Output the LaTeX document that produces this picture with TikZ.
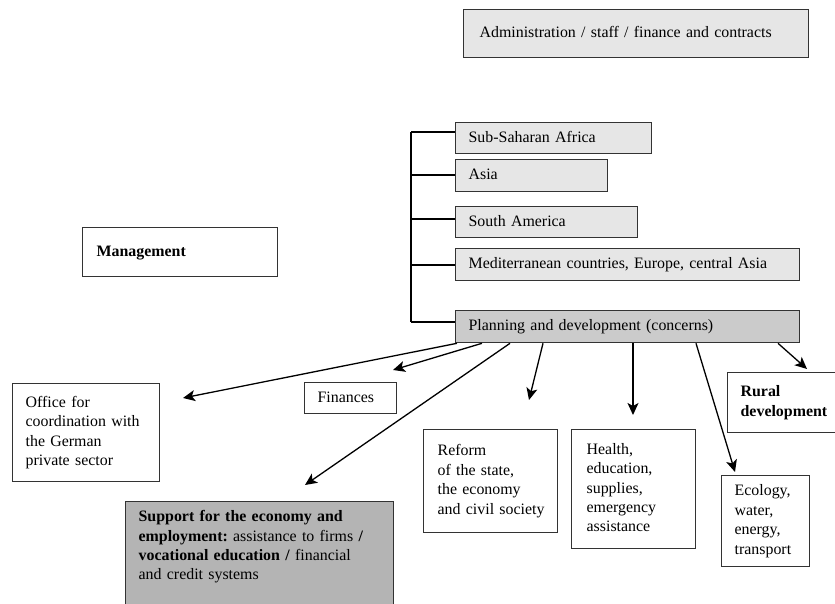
\documentclass[tikz,border=0pt]{standalone}
\usepackage{fontspec}
\setmainfont{Liberation Serif}
\usetikzlibrary{arrows.meta,calc}
\definecolor{lightbox}{HTML}{E6E6E6}
\definecolor{planbox}{HTML}{CBCBCB}
\definecolor{supbox}{HTML}{B4B4B4}
\definecolor{edgec}{HTML}{333333}
\newcommand{\cellt}[1]{\begin{tabular}{@{}l@{}}#1\end{tabular}}
\newcommand{\cellttop}[1]{\begin{tabular}[t]{@{}l@{}}#1\end{tabular}}
\frenchspacing
\begin{document}
\begin{tikzpicture}[x=1pt,y=-1pt,
  box/.style={draw=edgec, line width=1.3pt, anchor=north west, align=left, inner ysep=0pt,
    font=\fontsize{15.9}{19.4}\selectfont},
  lbox/.style={box, fill=lightbox},
  arr/.style={line width=1.3pt, draw=black, -{Stealth[length=12pt,width=11pt,inset=3pt]}},
  brk/.style={line width=1.3pt, draw=black}
]
\useasboundingbox (0,0) rectangle (835,604);

% top
\node[lbox, minimum width=345pt, minimum height=48pt, text width=313pt, inner xsep=16pt] (admin) at (463,9)
  {\cellt{Administration / staff / finance and contracts}};
\node[box, fill=white, minimum width=195pt, minimum height=49pt, text width=167pt, inner xsep=14pt] (mgmt) at (82,227)
  {\cellt{\textbf{Management}}};

% regions
\node[lbox, minimum width=196pt, minimum height=31pt, text width=170pt, inner xsep=13pt] (sub) at (455,122)
  {\cellt{Sub-Saharan Africa}};
\node[lbox, minimum width=152pt, minimum height=32pt, text width=126pt, inner xsep=13pt] (asia) at (455,159)
  {\cellt{Asia}};
\node[lbox, minimum width=182pt, minimum height=31pt, text width=156pt, inner xsep=13pt] (sam) at (455,206)
  {\cellt{South America}};
\node[lbox, minimum width=344pt, minimum height=32pt, text width=318pt, inner xsep=13pt] (med) at (455,248)
  {\cellt{Mediterranean countries, Europe, central Asia}};
\node[box, fill=planbox, minimum width=344pt, minimum height=32pt, text width=318pt, inner xsep=13pt] (plan) at (455,310)
  {\cellt{Planning and development (concerns)}};

% bracket
\coordinate (b1) at (411,132);
\coordinate (b2) at (411,175);
\coordinate (b3) at (411,219);
\coordinate (b4) at (411,265);
\coordinate (b5) at (411,322);
\draw[brk] (b1) -- (b5);
\draw[brk] (b1) -- (b1 -| sub.west);
\draw[brk] (b2) -- (b2 -| asia.west);
\draw[brk] (b3) -- (b3 -| sam.west);
\draw[brk] (b4) -- (b4 -| med.west);
\draw[brk] (b5) -- (b5 -| plan.west);

% concerns
\node[box, fill=white, minimum width=147pt, minimum height=98pt, text width=121pt, inner xsep=13pt] (office) at (12,383)
  {\cellt{Office for\\coordination with\\the German\\private sector}};
\node[box, fill=white, minimum width=92pt, minimum height=31pt, text width=66pt, inner xsep=13pt] (fin) at (304,382)
  {\cellt{Finances}};
\node[box, fill=supbox, minimum width=268pt, text width=242pt, inner xsep=13pt, text height=20pt, text depth=100pt] (sup) at (125,501)
  {\cellttop{\textbf{Support for the economy and}\\\textbf{employment:} assistance to firms \textbf{/}\\\textbf{vocational education /} financial\\and credit systems}};
\node[box, fill=white, minimum width=134pt, minimum height=103pt, text width=106pt, inner xsep=14pt] (reform) at (423,429)
  {\cellt{Reform\\of the state,\\the economy\\and civil society}};
\node[box, fill=white, minimum width=124pt, minimum height=119pt, text width=94pt, inner xsep=15pt] (health) at (571,429)
  {\cellt{Health,\\education,\\supplies,\\emergency\\assistance}};
\node[box, fill=white, minimum width=88pt, minimum height=91pt, text width=62pt, inner xsep=13pt] (eco) at (721,475)
  {\cellt{Ecology,\\water,\\energy,\\transport}};
\node[box, fill=white, minimum width=113pt, minimum height=60pt, text width=87pt, inner xsep=13pt] (rural) at (727,372)
  {\cellt{\textbf{Rural}\\\textbf{development}}};

% arrow ends
\coordinate (eOffice) at (183,398);
\coordinate (eFin) at (393,370);
\coordinate (eSup) at (305,485);
\coordinate (eRef) at (529,400);
\coordinate (eHea) at (633,415);

\draw[arr] ($(plan.south west)+(2,0)$) -- (eOffice);
\draw[arr] ($(plan.south west)+(27,0)$) -- (eFin);
\draw[arr] ($(plan.south west)+(55,0)$) -- (eSup);
\draw[arr] ($(plan.south west)+(88,0)$) -- (eRef);
\draw[arr] ($(plan.south west)+(178,0)$) -- (eHea);
\draw[arr] ($(plan.south west)+(241,0)$) -- ($(eco.north west)+(14,-3)$);
\draw[arr] ($(plan.south west)+(323,0)$) -- ($(rural.north west)+(80,-3)$);
\end{tikzpicture}
\end{document}
